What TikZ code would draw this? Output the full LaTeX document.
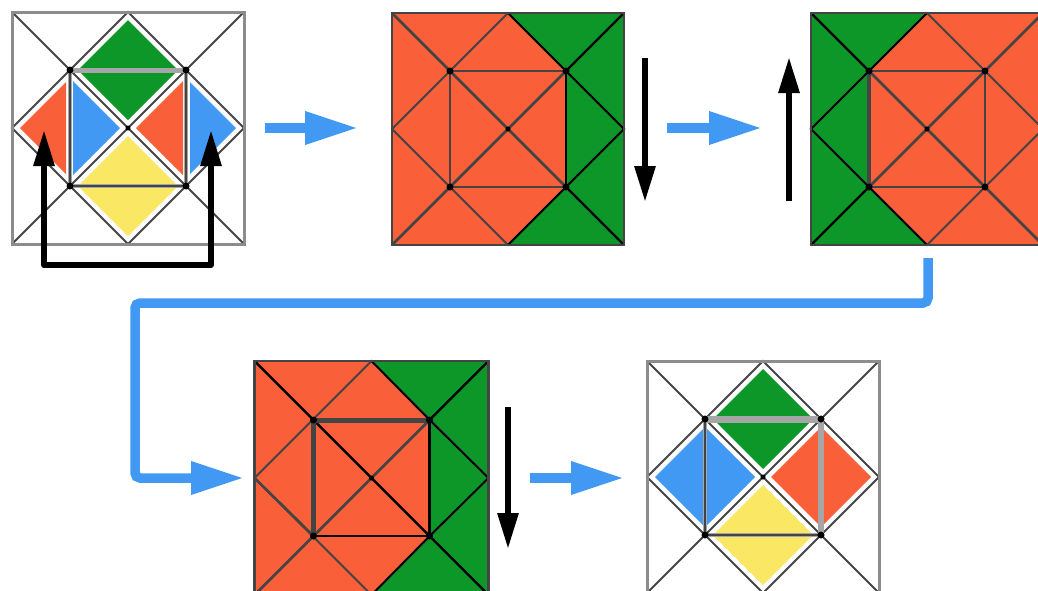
\documentclass[tikz,border=0pt]{standalone}
\usetikzlibrary{arrows.meta}

\definecolor{foldorange}{HTML}{F95F38}
\definecolor{foldgreen}{HTML}{0D9729}
\definecolor{foldblue}{HTML}{4299F3}
\definecolor{foldyellow}{HTML}{FAE864}
\definecolor{folddark}{HTML}{444444}

\tikzset{
  crease/.style={draw=folddark,line width=1.9pt},
  heavy/.style={draw=folddark,line width=5pt},
  inked/.style={draw=black,line width=2.2pt},
  sheen/.style={draw=gray!70,line width=5pt},
  outline/.style={draw=gray!90,line width=3pt},
  flow/.style={draw=foldblue,line width=9.5pt,-{Triangle[length=53pt,width=31pt]}},
  move/.style={draw=black,line width=6pt,-{Triangle[length=36pt,width=20pt]}}
}

% creases of one sheet, drawn around the origin of the scope
\newcommand{\foldcreases}[1]{
  \draw[crease] (-#1,-#1) -- (#1,#1) (-#1,#1) -- (#1,-#1);
  \draw[crease] (0,-#1) -- (#1,0) -- (0,#1) -- (-#1,0) -- cycle;
  \draw[crease] (-58,-58) rectangle (58,58);
}
% green side of a sheet, creases in black
\newcommand{\foldinked}[1]{
  \draw[inked,line width=1.8pt] (0,-#1) -- (58,-58) -- (#1,0) -- (58,58) -- (0,#1);
  \draw[inked,line width=2.4pt] (58,-58) -- (#1,-#1) (58,58) -- (#1,#1);
}
\newcommand{\folddots}{
  \foreach \px/\py in {-58/-58,58/-58,58/58,-58/58}
    \fill (\px,\py) circle (3.5pt);
  \fill (0,0) circle (2.5pt);
}

\begin{document}
\begin{tikzpicture}[x=1pt,y=-1pt]
  \useasboundingbox (0,0) rectangle (1038,590);

  % start sheet
  \begin{scope}[shift={(128,128)}]
    \fill[foldgreen] (0,-108) -- (50,-58) -- (0,-8) -- (-50,-58) -- cycle;
    \fill[foldyellow] (0,108) -- (50,58) -- (0,8) -- (-50,58) -- cycle;
    \fill[foldorange] (-108,0) -- (-62,-46) -- (-62,46) -- cycle;
    \fill[foldblue] (-55,-47) -- (-8,0) -- (-55,47) -- cycle;
    \fill[foldorange] (8,0) -- (55,-47) -- (55,47) -- cycle;
    \fill[foldblue] (62,-46) -- (108,0) -- (62,46) -- cycle;
    \foldcreases{116}
    \draw[outline] (-116,-116) rectangle (116,116);
    \draw[sheen] (-58,-58) -- (58,-58);
    \draw[sheen,line width=4pt] (-58,58) -- (58,58);
    \draw[sheen,line width=4pt] (-58,-58) -- (-58,58);
    \draw[sheen,line width=4pt] (58,-58) -- (58,58);
    \draw[crease] (-58,58) -- (58,58) (-58,-58) -- (-58,58) (58,-58) -- (58,58);
    \folddots
  \end{scope}

  % second sheet
  \begin{scope}[shift={(508,129)}]
    \fill[foldorange] (-116,-116) rectangle (116,116);
    \fill[foldgreen] (0,-116) -- (116,-116) -- (116,116) -- (0,116) -- (58,58) -- (58,-58) -- cycle;
    \foldcreases{116}
    \foldinked{116}
    \draw[crease,line width=2.6pt] (-116,-116) -- (58,58) (-116,116) -- (58,-58);
    \draw[inked] (58,-58) -- (58,58);
    \draw[crease,line width=2.2pt] (-116,-116) rectangle (116,116);
    \folddots
  \end{scope}

  % third sheet
  \begin{scope}[shift={(927,129)}]
    \fill[foldorange] (-116,-116) rectangle (116,116);
    \fill[foldgreen] (0,-116) -- (-116,-116) -- (-116,116) -- (0,116) -- (-58,58) -- (-58,-58) -- cycle;
    \foldcreases{116}
    \begin{scope}[xscale=-1]
      \foldinked{116}
    \end{scope}
    \draw[crease,line width=2.6pt] (-58,-58) -- (116,116) (-58,58) -- (116,-116);
    \draw[heavy,line width=4pt] (-58,-58) -- (-58,58);
    \draw[crease,line width=2.2pt] (-116,-116) rectangle (116,116);
    \folddots
  \end{scope}

  % fourth sheet
  \begin{scope}[shift={(371.5,478)}]
    \fill[foldorange] (-117,-117) rectangle (117,117);
    \fill[foldgreen] (0,-117) -- (117,-117) -- (117,117) -- (0,117) -- (58,58) -- (58,-58) -- cycle;
    \foldcreases{117}
    \foldinked{117}
    \draw[inked] (-117,-117) -- (-58,-58) (-58,-58) -- (58,58);
    \draw[crease,line width=2.6pt] (-58,58) -- (58,-58) (-117,0) -- (-58,58) -- (-117,117);
    \draw[inked] (-58,58) -- (58,58) -- (58,-58);
    \draw[heavy] (-58,58) -- (-58,-58) -- (58,-58);
    \draw[crease,line width=2.2pt] (-117,-117) rectangle (117,117);
    \folddots
  \end{scope}

  % last sheet
  \begin{scope}[shift={(763,477)}]
    \fill[foldgreen] (0,-108) -- (50,-58) -- (0,-8) -- (-50,-58) -- cycle;
    \fill[foldyellow] (0,108) -- (50,58) -- (0,8) -- (-50,58) -- cycle;
    \fill[foldblue] (-108,0) -- (-58,-50) -- (-8,0) -- (-58,50) -- cycle;
    \fill[foldorange] (108,0) -- (58,-50) -- (8,0) -- (58,50) -- cycle;
    \foldcreases{116}
    \draw[outline] (-116,-116) rectangle (116,116);
    \draw[sheen,line width=7pt] (-58,-58) -- (58,-58);
    \draw[sheen,line width=4pt] (-58,58) -- (58,58);
    \draw[sheen,line width=4pt] (-58,-58) -- (-58,58);
    \draw[sheen,line width=6pt] (58,-58) -- (58,58);
    \draw[crease] (-58,58) -- (58,58) (-58,-58) -- (-58,58);
    \folddots
  \end{scope}

  % flow between the sheets
  \coordinate (flowa) at (265,128);
  \coordinate (flowb) at (358,128);
  \coordinate (flowc) at (667,128);
  \coordinate (flowd) at (762,128);
  \coordinate (flowe) at (928,258);
  \coordinate (flowf) at (135,303);
  \coordinate (flowg) at (244,478);
  \coordinate (flowh) at (530,478);
  \coordinate (flowi) at (624,478);
  \draw[flow] (flowa) -- (flowb);
  \draw[flow] (flowc) -- (flowd);
  \draw[flow,rounded corners=5pt] (flowe) |- (flowf) |- (flowg);
  \draw[flow] (flowh) -- (flowi);

  % moves of the flaps
  \coordinate (lifta) at (44,130);
  \coordinate (liftb) at (44,265);
  \coordinate (liftc) at (211,265);
  \coordinate (liftd) at (211,130);
  \draw[move,{Triangle[length=36pt,width=20pt]}-{Triangle[length=36pt,width=20pt]},line join=round] (lifta) -- (liftb) -- (liftc) -- (liftd);
  \coordinate (downa) at (645,58);
  \coordinate (downb) at (645,202);
  \draw[move] (downa) -- (downb);
  \coordinate (upa) at (789,201);
  \coordinate (upb) at (789,57);
  \draw[move] (upa) -- (upb);
  \coordinate (downc) at (508,407);
  \coordinate (downd) at (508,549);
  \draw[move] (downc) -- (downd);
\end{tikzpicture}
\end{document}
